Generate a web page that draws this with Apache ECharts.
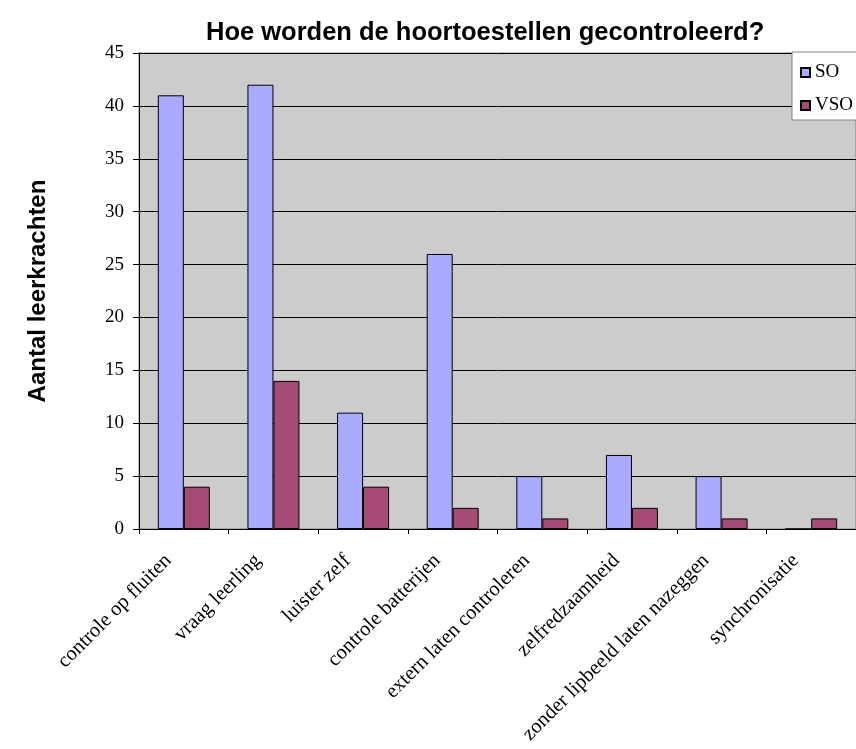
<!DOCTYPE html>
<html><head><meta charset="utf-8">
<script src="https://cdn.jsdelivr.net/npm/echarts@6/dist/echarts.min.js"></script>
<style>html,body{margin:0;padding:0;background:#fff}#c{width:856px;height:749px}</style>
</head><body><div id="c"></div>
<script>
var categories = ["controle op fluiten","vraag leerling","luister zelf","controle batterijen","extern laten controleren","zelfredzaamheid","zonder lipbeeld laten nazeggen","synchronisatie"];
var soValues = [41, 42, 11, 26, 5, 7, 5, 0];
var vsoValues = [4, 14, 4, 2, 1, 2, 1, 1];
var seriesNames = ["SO", "VSO"];
var chart = echarts.init(document.getElementById('c'));
chart.setOption({
  animation: false,
  backgroundColor: '#fff',
  title: {
    text: 'Hoe worden de hoortoestellen gecontroleerd?',
    left: 201, top: 15,
    textStyle: {fontFamily: 'Liberation Sans, Arial', fontWeight: 'bold', fontSize: 25.5, color: '#000'}
  },
  legend: {
    orient: 'vertical', left: 792, top: 52,
    data: seriesNames,
    backgroundColor: '#fff', borderColor: '#808080', borderWidth: 1,
    padding: [11, 20, 5, 8], itemGap: 14,
    itemWidth: 9, itemHeight: 9, icon: 'rect',
    textStyle: {fontFamily: 'Liberation Serif, Times New Roman', fontSize: 19, color: '#000'}
  },
  grid: {left: 139, top: 53, right: -3, bottom: 220, show: true, backgroundColor: '#CCCCCC', borderColor: '#808080', borderWidth: 1},
  xAxis: {
    type: 'category', data: categories,
    axisLine: {lineStyle: {color: '#000', width: 1}},
    axisTick: {show: true, length: 5, lineStyle: {color: '#000'}},
    axisLabel: {rotate: 45, interval: 0, margin: 13, padding: [0, 22, 0, 0],
      fontFamily: 'Liberation Serif, Times New Roman', fontSize: 20.5, color: '#000'}
  },
  yAxis: {
    type: 'value', min: 0, max: 45, interval: 5,
    name: 'Aantal leerkrachten', nameLocation: 'middle', nameGap: 89,
    nameTextStyle: {fontFamily: 'Liberation Sans, Arial', fontWeight: 'bold', fontSize: 24, color: '#000'},
    axisLine: {show: true, lineStyle: {color: '#000'}},
    axisTick: {show: true, length: 6, lineStyle: {color: '#000'}},
    axisLabel: {margin: 15, fontFamily: 'Liberation Serif, Times New Roman', fontSize: 19, color: '#000'},
    splitLine: {show: true, lineStyle: {color: '#000', width: 1}}
  },
  series: [
    {name: seriesNames[0], type: 'bar', data: soValues, barWidth: 26, barGap: '0%',
     itemStyle: {color: '#AAAAFF', borderColor: '#000', borderWidth: 1}},
    {name: seriesNames[1], type: 'bar', data: vsoValues, barWidth: 26, barGap: '0%',
     itemStyle: {color: '#A64A76', borderColor: '#000', borderWidth: 1}}
  ]
});
</script></body></html>
